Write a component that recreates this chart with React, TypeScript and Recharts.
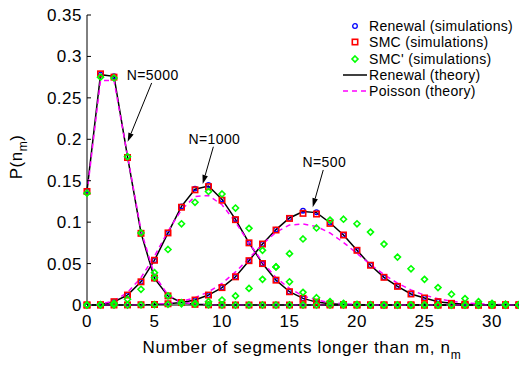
import React from 'react'
import { ComposedChart, Line, XAxis, YAxis, ReferenceLine, Label } from 'recharts'

// number of segments n_m
const ns = [0, 1, 2, 3, 4, 5, 6, 7, 8, 9, 10, 11, 12, 13, 14, 15, 16, 17, 18, 19, 20, 21, 22, 23, 24, 25, 26, 27, 28, 29, 30, 31, 32]

// N=5000
const renewalSim5000 = [0.138, 0.278, 0.276, 0.179, 0.087, 0.032, 0.011, 0.003, 0.0008, 0.0002, 0, 0, 0, 0, 0, 0, 0, 0, 0, 0, 0, 0, 0, 0, 0, 0, 0, 0, 0, 0, 0, 0, 0]
const smcSim5000 = [0.137, 0.279, 0.275, 0.178, 0.0865, 0.0325, 0.011, 0.003, 0.0008, 0.0002, 0, 0, 0, 0, 0, 0, 0, 0, 0, 0, 0, 0, 0, 0, 0, 0, 0, 0, 0, 0, 0, 0, 0]
const smcPrime5000 = [0.135, 0.275, 0.274, 0.179, 0.087, 0.033, 0.011, 0.003, 0.001, 0.0002, 0, 0, 0, 0, 0, 0, 0, 0, 0, 0, 0, 0, 0, 0, 0, 0, 0, 0, 0, 0, 0, 0, 0]
const renewalTh5000 = [0.138, 0.278, 0.276, 0.179, 0.087, 0.032, 0.011, 0.003, 0.0008, 0.0002, 0, 0, 0, 0, 0, 0, 0, 0, 0, 0, 0, 0, 0, 0, 0, 0, 0, 0, 0, 0, 0, 0, 0]
const poisson5000 = [0.135, 0.271, 0.271, 0.18, 0.09, 0.036, 0.012, 0.0034, 0.0009, 0.0002, 0, 0, 0, 0, 0, 0, 0, 0, 0, 0, 0, 0, 0, 0, 0, 0, 0, 0, 0, 0, 0, 0, 0]

// N=1000
const renewalSim1000 = [0, 0.0003, 0.004, 0.012, 0.028, 0.054, 0.087, 0.119, 0.1405, 0.1448, 0.1275, 0.1034, 0.075, 0.05, 0.03, 0.016, 0.008, 0.0035, 0.0015, 0.0005, 0.0002, 0, 0, 0, 0, 0, 0, 0, 0, 0, 0, 0, 0]
const smcSim1000 = [0, 0.0003, 0.004, 0.012, 0.028, 0.054, 0.087, 0.118, 0.139, 0.1428, 0.1265, 0.103, 0.075, 0.05, 0.03, 0.016, 0.008, 0.0035, 0.0015, 0.0005, 0.0002, 0, 0, 0, 0, 0, 0, 0, 0, 0, 0, 0, 0]
const smcPrime1000 = [0, 0.0005, 0.002, 0.007, 0.019, 0.039, 0.067, 0.098, 0.124, 0.137, 0.134, 0.117, 0.0925, 0.066, 0.046, 0.028, 0.0153, 0.0088, 0.004, 0.002, 0.0008, 0.0003, 0, 0, 0, 0, 0, 0, 0, 0, 0, 0, 0]
const renewalTh1000 = [0, 0.0003, 0.004, 0.012, 0.028, 0.054, 0.087, 0.119, 0.1398, 0.1436, 0.1275, 0.1034, 0.075, 0.05, 0.03, 0.016, 0.008, 0.0035, 0.0015, 0.0005, 0.0002, 0, 0, 0, 0, 0, 0, 0, 0, 0, 0, 0, 0]
const poisson1000 = [0.0001, 0.001, 0.005, 0.015, 0.033, 0.059, 0.089, 0.115, 0.131, 0.132, 0.121, 0.1, 0.075, 0.052, 0.033, 0.02, 0.011, 0.006, 0.003, 0.0014, 0.0006, 0.0002, 0, 0, 0, 0, 0, 0, 0, 0, 0, 0, 0]

// N=500
const renewalSim500 = [0, 0, 0, 0.0001, 0.0003, 0.0006, 0.0015, 0.003, 0.006, 0.012, 0.021, 0.034, 0.0535, 0.0736, 0.091, 0.105, 0.1138, 0.112, 0.0993, 0.0845, 0.066, 0.048, 0.0334, 0.0225, 0.0133, 0.0085, 0.004, 0.002, 0.001, 0.0004, 0.0002, 0.0001, 0]
const smcSim500 = [0, 0, 0, 0.0001, 0.0003, 0.0006, 0.0015, 0.003, 0.006, 0.012, 0.021, 0.034, 0.0535, 0.0736, 0.0905, 0.1045, 0.1106, 0.1098, 0.0985, 0.0845, 0.066, 0.048, 0.0334, 0.0225, 0.0133, 0.0085, 0.004, 0.002, 0.001, 0.0004, 0.0002, 0.0001, 0]
const smcPrime500 = [0, 0, 0, 0, 0.0002, 0.0004, 0.0008, 0.0015, 0.002, 0.004, 0.006, 0.011, 0.02, 0.031, 0.046, 0.062, 0.0797, 0.093, 0.1025, 0.1035, 0.098, 0.088, 0.0735, 0.0578, 0.0437, 0.031, 0.021, 0.013, 0.0077, 0.004, 0.002, 0.001, 0.0005]
const renewalTh500 = [0, 0, 0, 0.0001, 0.0003, 0.0006, 0.0015, 0.003, 0.006, 0.012, 0.021, 0.034, 0.0535, 0.0736, 0.091, 0.105, 0.1128, 0.1115, 0.0993, 0.0845, 0.066, 0.048, 0.0334, 0.0225, 0.0133, 0.0085, 0.004, 0.002, 0.001, 0.0004, 0.0002, 0.0001, 0]
const poisson500 = [0, 0, 0, 0.0001, 0.0002, 0.0007, 0.0019, 0.0045, 0.0088, 0.0158, 0.0261, 0.0399, 0.0563, 0.0733, 0.0878, 0.0966, 0.0977, 0.0948, 0.0869, 0.0755, 0.0623, 0.0489, 0.0367, 0.0263, 0.0181, 0.0119, 0.0076, 0.0046, 0.0027, 0.0015, 0.0008, 0.0004, 0.0002]

const xTicks = [0, 5, 10, 15, 20, 25, 30]
const yTicks = [0, 0.05, 0.1, 0.15, 0.2, 0.25, 0.3, 0.35]

// arrow annotations (data coords)
const arrowLabels = ['N=5000', 'N=1000', 'N=500']
const arrowFromX = [4.79, 9.36, 17.5]
const arrowFromY = [0.268, 0.191, 0.163]
const arrowToX = [3.01, 8.57, 16.72]
const arrowToY = [0.197, 0.146, 0.118]

const legendNames = ['Renewal (simulations)', 'SMC (simulations)', "SMC' (simulations)", 'Renewal (theory)', 'Poisson (theory)']

const rows = ns.map((n, i) => ({
  n,
  rs5000: renewalSim5000[i], ss5000: smcSim5000[i], sp5000: smcPrime5000[i], rt5000: renewalTh5000[i], pt5000: poisson5000[i],
  rs1000: renewalSim1000[i], ss1000: smcSim1000[i], sp1000: smcPrime1000[i], rt1000: renewalTh1000[i], pt1000: poisson1000[i],
  rs500: renewalSim500[i], ss500: smcSim500[i], sp500: smcPrime500[i], rt500: renewalTh500[i], pt500: poisson500[i],
}))

const FONT = '"Liberation Sans", Arial, Helvetica, sans-serif'
const BLUE = '#0000ff'
const RED = '#ff0000'
const GREEN = '#00ff00'
const MAGENTA = '#ff00ff'

const circleDot = (props: any) => {
  const { cx, cy, index } = props
  if (cx == null || cy == null) return <g key={`c${index}`} />
  return <circle key={`c${index}`} cx={cx} cy={cy} r={2.3} fill="none" stroke={BLUE} strokeWidth={1.3} />
}

const squareDot = (props: any) => {
  const { cx, cy, index } = props
  if (cx == null || cy == null) return <g key={`s${index}`} />
  return <rect key={`s${index}`} x={cx - 2.7} y={cy - 2.7} width={5.4} height={5.4} fill="none" stroke={RED} strokeWidth={1.6} />
}

const diamondDot = (props: any) => {
  const { cx, cy, index } = props
  if (cx == null || cy == null) return <g key={`d${index}`} />
  const r = 3
  return <polygon key={`d${index}`} points={`${cx},${cy - r} ${cx + r},${cy} ${cx},${cy + r} ${cx - r},${cy}`} fill="none" stroke={GREEN} strokeWidth={1.6} />
}

const arrowShape = (label: string) => (props: any) => {
  const { x1, y1, x2, y2 } = props
  const dx = x2 - x1
  const dy = y2 - y1
  const len = Math.hypot(dx, dy) || 1
  const ux = dx / len
  const uy = dy / len
  const hl = 9
  const hw = 2.8
  const bx = x2 - ux * hl
  const by = y2 - uy * hl
  const pts = `${x2},${y2} ${bx - uy * hw},${by + ux * hw} ${bx + uy * hw},${by - ux * hw}`
  return (
    <g>
      <line x1={x1} y1={y1} x2={bx} y2={by} stroke="#000" strokeWidth={1} />
      <polygon points={pts} fill="#000" />
      <text x={x1 + 1} y={y1 - 3} textAnchor="middle" fontSize={14} letterSpacing={0.4} fontFamily={FONT} fill="#000">{label}</text>
    </g>
  )
}

const sims = ['5000', '1000', '500']

export default function App() {
  return (
    <div style={{ position: 'relative', width: 519, height: 368, background: '#fff', fontFamily: FONT }}>
      <style>{'body{margin:0}'}</style>
      <ComposedChart width={519} height={368} data={rows} margin={{ top: 15, right: 0, bottom: 0, left: 0 }}>
        <XAxis
          dataKey="n" type="number" domain={[0, 32]} ticks={xTicks} height={63}
          tickSize={-4} tickMargin={14} stroke="#000" axisLine={{ stroke: '#000' }}
          tick={{ fill: '#000', fontSize: 17, fontFamily: FONT, letterSpacing: 0.5 }} interval={0}
        >
          <Label content={() => (
            <text x={302} y={353} textAnchor="middle" fontSize={17} letterSpacing={0.65} fontFamily={FONT} fill="#000">
              Number of segments longer than m, n<tspan dy={6} fontSize={12}>m</tspan>
            </text>
          )} />
        </XAxis>
        <YAxis
          type="number" domain={[0, 0.35]} ticks={yTicks} width={87}
          tickSize={-4} tickMargin={9} stroke="#000" axisLine={{ stroke: '#000' }}
          tick={{ fill: '#000', fontSize: 17, fontFamily: FONT, letterSpacing: 0.5 }} interval={0}
          tickFormatter={(v: number) => `${+v.toFixed(2)}`}
        >
          <Label content={() => (
            <text transform="translate(22,157) rotate(-90)" textAnchor="middle" fontSize={17} letterSpacing={0.5} fontFamily={FONT} fill="#000">
              P(n<tspan dy={5} fontSize={12}>m</tspan><tspan dy={-5}>)</tspan>
            </text>
          )} />
        </YAxis>

        {sims.map(s => (
          <Line key={`rs${s}`} dataKey={`rs${s}`} stroke="none" dot={circleDot} activeDot={false} isAnimationActive={false} legendType="none" />
        ))}
        {sims.map(s => (
          <Line key={`ss${s}`} dataKey={`ss${s}`} stroke="none" dot={squareDot} activeDot={false} isAnimationActive={false} legendType="none" />
        ))}
        {sims.map(s => (
          <Line key={`sp${s}`} dataKey={`sp${s}`} stroke="none" dot={diamondDot} activeDot={false} isAnimationActive={false} legendType="none" />
        ))}
        {sims.map(s => (
          <Line key={`rt${s}`} dataKey={`rt${s}`} type="linear" stroke="#000" strokeWidth={1.5} dot={false} activeDot={false} isAnimationActive={false} legendType="none" />
        ))}
        {sims.map(s => (
          <Line key={`pt${s}`} dataKey={`pt${s}`} type="linear" stroke={MAGENTA} strokeWidth={1.5} strokeDasharray="5 4" dot={false} activeDot={false} isAnimationActive={false} legendType="none" />
        ))}

        {arrowLabels.map((lab, i) => (
          <ReferenceLine
            key={lab}
            segment={[{ x: arrowFromX[i], y: arrowFromY[i] }, { x: arrowToX[i], y: arrowToY[i] }]}
            shape={arrowShape(lab)}
            ifOverflow="visible"
          />
        ))}
      </ComposedChart>

      {/* legend */}
      <div style={{ position: 'absolute', left: 340, top: 18, width: 179, fontSize: 14, letterSpacing: 0.3, lineHeight: '16.3px', color: '#000' }}>
        {legendNames.map((name, i) => (
          <div key={name} style={{ display: 'flex', alignItems: 'center', height: 16.3 }}>
            <svg width={28} height={16} style={{ flexShrink: 0 }}>
              {i === 0 && <circle cx={15} cy={8} r={2.3} fill="none" stroke={BLUE} strokeWidth={1.3} />}
              {i === 1 && <rect x={12.3} y={5.3} width={5.4} height={5.4} fill="none" stroke={RED} strokeWidth={1.6} />}
              {i === 2 && <polygon points="15,5 18,8 15,11 12,8" fill="none" stroke={GREEN} strokeWidth={1.6} />}
              {i === 3 && <line x1={3} y1={8} x2={27} y2={8} stroke="#000" strokeWidth={1.5} />}
              {i === 4 && <line x1={3} y1={8} x2={27} y2={8} stroke={MAGENTA} strokeWidth={1.5} strokeDasharray="5 4" />}
            </svg>
            <span style={{ marginLeft: 1, whiteSpace: 'nowrap' }}>{name}</span>
          </div>
        ))}
      </div>
    </div>
  )
}
